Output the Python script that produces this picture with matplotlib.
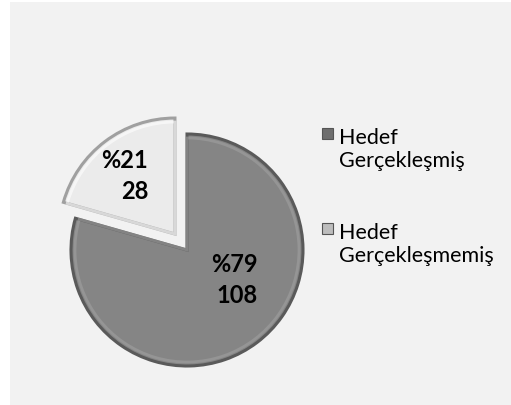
import matplotlib.pyplot as plt
from matplotlib.patches import Rectangle

labels = ['Hedef\nGerçekleşmiş', 'Hedef\nGerçekleşmemiş']
counts = [108, 28]
percents = [79, 21]
colors = ['#858585', '#ebebeb']
edge_colors = ['#5a5a5a', '#a0a0a0']
marker_colors = ['#6e6e6e', '#bdbdbd']

W, H = 511, 406
fig = plt.figure(figsize=(W / 100, H / 100), dpi=100)
fig.patch.set_facecolor('white')
ax = fig.add_axes([0, 0, 1, 1])
ax.set_facecolor('white')

# grey chart area (leaves a thin white strip on the top/left)
ax.add_patch(Rectangle((10, 0), W - 10, H - 3, facecolor='#f2f2f2', edgecolor='none', zorder=0))

wedges, _ = ax.pie(counts, colors=colors, startangle=90, counterclock=False,
                   center=(187, 155), radius=116, explode=[0, 20], frame=True,
                   wedgeprops=dict(linewidth=2.2))
for w, ec in zip(wedges, edge_colors):
    w.set_edgecolor(ec)
    w.set_zorder(2)

# lighter bevel just inside the rim
inner, _ = ax.pie(counts, colors=['none', 'none'], startangle=90, counterclock=False,
                  center=(187, 155), radius=112, explode=[0, 20], frame=True,
                  wedgeprops=dict(linewidth=2))
for w, c in zip(inner, ['#a0a0a0', '#ffffff']):
    w.set_facecolor('none')
    w.set_edgecolor(c)
    w.set_alpha(0.6)
    w.set_zorder(2.5)

ax.set_xlim(0, W)
ax.set_ylim(0, H)
ax.set_aspect('equal')
ax.axis('off')

# data labels
label_pos = [(258, 126), (148, 230)]
for (x, y), p, c in zip(label_pos, percents, counts):
    ax.text(x, y, f'%{p}\n{c}', ha='right', va='center', multialignment='right',
            fontsize=17, fontweight='bold', family='Lato', linespacing=1.4, zorder=3)

# legend
leg_y = [271, 176]
for y, lab, col in zip(leg_y, labels, marker_colors):
    ax.add_patch(Rectangle((322, y - 5), 11, 11, facecolor=col, edgecolor='#555555', lw=0.8, zorder=3))
    ax.text(339, y + 7, lab, ha='left', va='top', fontsize=15.5, family='Lato',
            linespacing=1.2, color='#000000', zorder=3)

fig.savefig('out.png', dpi=100, facecolor=fig.get_facecolor())
